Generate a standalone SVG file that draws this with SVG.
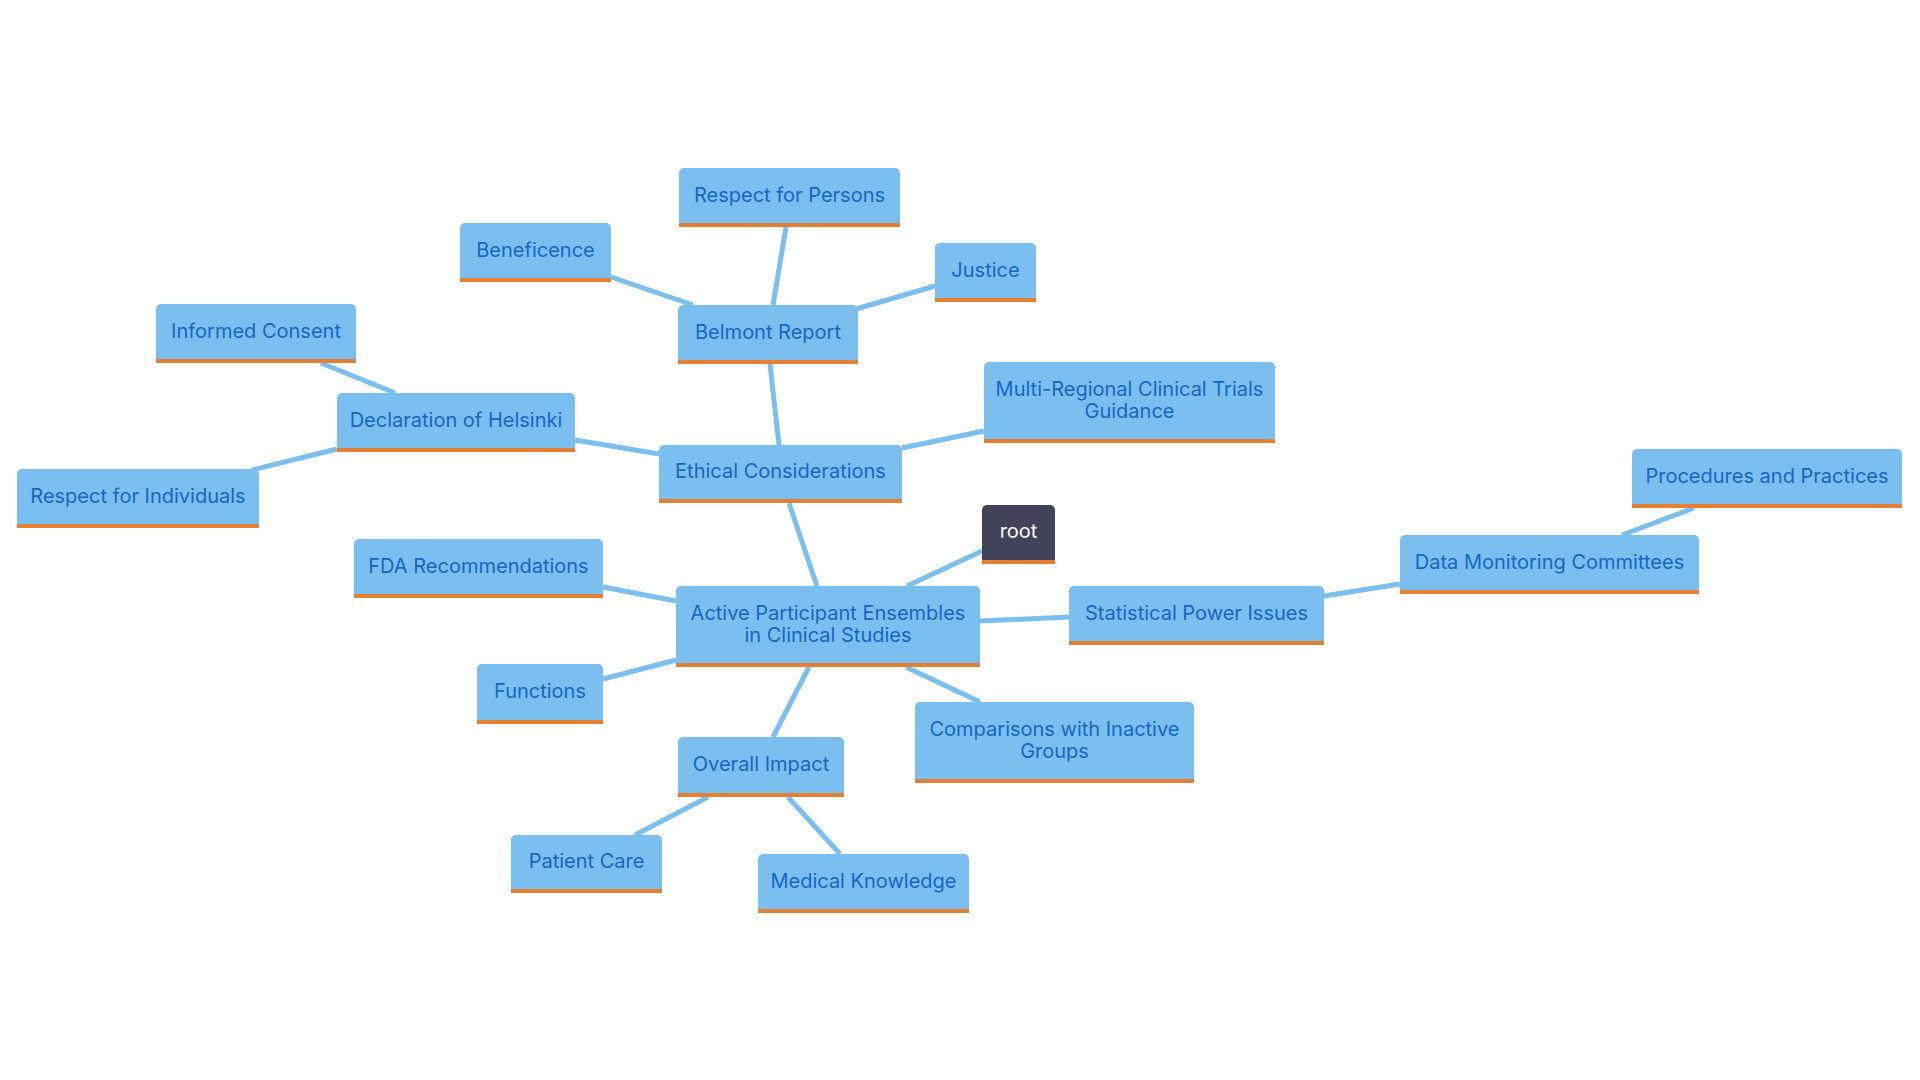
<svg xmlns="http://www.w3.org/2000/svg" width="1920" height="1080" viewBox="0 0 1920 1080">
<style>
.n{fill:#7BBFF1}
.r{fill:#40435A}
.b{fill:#E47F34}
.t{font-family:Inter,"Noto Sans","Liberation Sans",sans-serif;font-size:20px;fill:#1567C4;text-anchor:middle;dominant-baseline:central}
.tw{fill:#FFFFFF}
.c{stroke:#7BBFF1;stroke-width:5;fill:none;stroke-linecap:butt}
</style>
<rect width="1920" height="1080" fill="#FFFFFF"/>
<g id="connectors">
<line class="c" x1="789" y1="503" x2="817" y2="586"/>
<line class="c" x1="907" y1="586" x2="982" y2="551"/>
<line class="c" x1="980" y1="621" x2="1069" y2="617"/>
<line class="c" x1="809" y1="667" x2="773" y2="737"/>
<line class="c" x1="906" y1="667" x2="980" y2="702"/>
<line class="c" x1="603" y1="587" x2="676" y2="601"/>
<line class="c" x1="603" y1="679" x2="676" y2="660"/>
<line class="c" x1="575" y1="440" x2="659" y2="454"/>
<line class="c" x1="770" y1="364" x2="779" y2="445"/>
<line class="c" x1="902" y1="448" x2="984" y2="431"/>
<line class="c" x1="773" y1="305" x2="786" y2="227"/>
<line class="c" x1="856" y1="309" x2="935" y2="286"/>
<line class="c" x1="611" y1="277" x2="693" y2="305"/>
<line class="c" x1="321" y1="363" x2="395" y2="393"/>
<line class="c" x1="337" y1="449" x2="252" y2="470"/>
<line class="c" x1="1324" y1="596" x2="1400" y2="584"/>
<line class="c" x1="1622" y1="535" x2="1694" y2="508"/>
<line class="c" x1="708" y1="797" x2="635" y2="835"/>
<line class="c" x1="788" y1="797" x2="840" y2="854"/>
</g>
<g id="root">
<path class="r" d="M982,510 a5,5 0 0 1 5,-5 h63 a5,5 0 0 1 5,5 v54 h-73 z"/>
<rect class="b" x="982" y="560" width="73" height="4"/>
<text class="t tw" x="1018.5" y="531">root</text>
</g>
<g id="active">
<path class="n" d="M676,591 a5,5 0 0 1 5,-5 h294 a5,5 0 0 1 5,5 v76 h-304 z"/>
<rect class="b" x="676" y="663" width="304" height="4"/>
<text class="t" x="828" y="613">Active Participant Ensembles</text>
<text class="t" x="828" y="635">in Clinical Studies</text>
</g>
<g id="ethical">
<path class="n" d="M659,450 a5,5 0 0 1 5,-5 h233 a5,5 0 0 1 5,5 v53 h-243 z"/>
<rect class="b" x="659" y="499" width="243" height="4"/>
<text class="t" x="780.5" y="471">Ethical Considerations</text>
</g>
<g id="belmont">
<path class="n" d="M678,310 a5,5 0 0 1 5,-5 h170 a5,5 0 0 1 5,5 v54 h-180 z"/>
<rect class="b" x="678" y="360" width="180" height="4"/>
<text class="t" x="768" y="332">Belmont Report</text>
</g>
<g id="respect-persons">
<path class="n" d="M679,173 a5,5 0 0 1 5,-5 h211 a5,5 0 0 1 5,5 v54 h-221 z"/>
<rect class="b" x="679" y="223" width="221" height="4"/>
<text class="t" x="789.5" y="195">Respect for Persons</text>
</g>
<g id="justice">
<path class="n" d="M935,248 a5,5 0 0 1 5,-5 h91 a5,5 0 0 1 5,5 v54 h-101 z"/>
<rect class="b" x="935" y="298" width="101" height="4"/>
<text class="t" x="985.5" y="270">Justice</text>
</g>
<g id="beneficence">
<path class="n" d="M460,228 a5,5 0 0 1 5,-5 h141 a5,5 0 0 1 5,5 v54 h-151 z"/>
<rect class="b" x="460" y="278" width="151" height="4"/>
<text class="t" x="535.5" y="250">Beneficence</text>
</g>
<g id="multi-regional">
<path class="n" d="M984,367 a5,5 0 0 1 5,-5 h281 a5,5 0 0 1 5,5 v76 h-291 z"/>
<rect class="b" x="984" y="439" width="291" height="4"/>
<text class="t" x="1129.5" y="389">Multi-Regional Clinical Trials</text>
<text class="t" x="1129.5" y="411">Guidance</text>
</g>
<g id="helsinki">
<path class="n" d="M337,398 a5,5 0 0 1 5,-5 h228 a5,5 0 0 1 5,5 v54 h-238 z"/>
<rect class="b" x="337" y="448" width="238" height="4"/>
<text class="t" x="456" y="420">Declaration of Helsinki</text>
</g>
<g id="informed-consent">
<path class="n" d="M156,309 a5,5 0 0 1 5,-5 h190 a5,5 0 0 1 5,5 v54 h-200 z"/>
<rect class="b" x="156" y="359" width="200" height="4"/>
<text class="t" x="256" y="331">Informed Consent</text>
</g>
<g id="respect-individuals">
<path class="n" d="M17,474 a5,5 0 0 1 5,-5 h232 a5,5 0 0 1 5,5 v54 h-242 z"/>
<rect class="b" x="17" y="524" width="242" height="4"/>
<text class="t" x="138" y="496">Respect for Individuals</text>
</g>
<g id="fda">
<path class="n" d="M354,544 a5,5 0 0 1 5,-5 h239 a5,5 0 0 1 5,5 v54 h-249 z"/>
<rect class="b" x="354" y="594" width="249" height="4"/>
<text class="t" x="478.5" y="566">FDA Recommendations</text>
</g>
<g id="functions">
<path class="n" d="M477,669 a5,5 0 0 1 5,-5 h116 a5,5 0 0 1 5,5 v55 h-126 z"/>
<rect class="b" x="477" y="720" width="126" height="4"/>
<text class="t" x="540" y="691">Functions</text>
</g>
<g id="statistical">
<path class="n" d="M1069,591 a5,5 0 0 1 5,-5 h245 a5,5 0 0 1 5,5 v54 h-255 z"/>
<rect class="b" x="1069" y="641" width="255" height="4"/>
<text class="t" x="1196.5" y="613">Statistical Power Issues</text>
</g>
<g id="dmc">
<path class="n" d="M1400,540 a5,5 0 0 1 5,-5 h289 a5,5 0 0 1 5,5 v54 h-299 z"/>
<rect class="b" x="1400" y="590" width="299" height="4"/>
<text class="t" x="1549.5" y="562">Data Monitoring Committees</text>
</g>
<g id="procedures">
<path class="n" d="M1632,454 a5,5 0 0 1 5,-5 h260 a5,5 0 0 1 5,5 v54 h-270 z"/>
<rect class="b" x="1632" y="504" width="270" height="4"/>
<text class="t" x="1767" y="476">Procedures and Practices</text>
</g>
<g id="comparisons">
<path class="n" d="M915,707 a5,5 0 0 1 5,-5 h269 a5,5 0 0 1 5,5 v76 h-279 z"/>
<rect class="b" x="915" y="779" width="279" height="4"/>
<text class="t" x="1054.5" y="729">Comparisons with Inactive</text>
<text class="t" x="1054.5" y="751">Groups</text>
</g>
<g id="overall">
<path class="n" d="M678,742 a5,5 0 0 1 5,-5 h156 a5,5 0 0 1 5,5 v55 h-166 z"/>
<rect class="b" x="678" y="793" width="166" height="4"/>
<text class="t" x="761" y="764">Overall Impact</text>
</g>
<g id="patient-care">
<path class="n" d="M511,840 a5,5 0 0 1 5,-5 h141 a5,5 0 0 1 5,5 v53 h-151 z"/>
<rect class="b" x="511" y="889" width="151" height="4"/>
<text class="t" x="586.5" y="861">Patient Care</text>
</g>
<g id="medical-knowledge">
<path class="n" d="M758,859 a5,5 0 0 1 5,-5 h201 a5,5 0 0 1 5,5 v54 h-211 z"/>
<rect class="b" x="758" y="909" width="211" height="4"/>
<text class="t" x="863.5" y="881">Medical Knowledge</text>
</g>
</svg>
